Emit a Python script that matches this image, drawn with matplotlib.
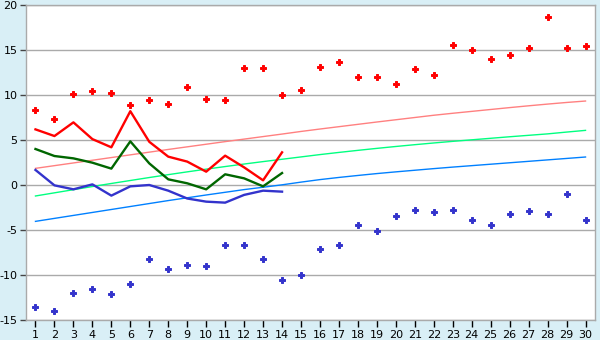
import matplotlib
matplotlib.use("Agg")
import matplotlib.pyplot as plt

days = list(range(1, 31))

rec_max = [8.3, 7.3, 10.1, 10.5, 10.2, 8.85, 9.5, 8.97, 10.85, 9.6,
           9.5, 12.96, 12.96, 9.96, 10.6, 13.07, 13.7, 11.96, 11.96, 11.2,
           12.85, 12.2, 15.6, 14.96, 13.96, 14.4, 15.2, 18.7, 15.2, 15.5]
rec_min = [-13.5, -14.04, -12.04, -11.5, -12.15, -11.04, -8.26, -9.37, -8.93, -9.04,
           -6.7, -6.7, -8.26, -10.6, -10.04, -7.15, -6.7, -4.44, -5.15, -3.48,
           -2.81, -3.04, -2.81, -3.93, -4.48, -3.26, -2.93, -3.26, -1.04, -3.93]

norm_max = [1.85, 2.15, 2.45, 2.75, 3.05, 3.35, 3.65, 3.95, 4.24, 4.53,
            4.82, 5.1, 5.38, 5.66, 5.95, 6.22, 6.48, 6.74, 7.0, 7.25,
            7.5, 7.75, 7.97, 8.18, 8.39, 8.6, 8.8, 8.99, 9.17, 9.33]
norm_mean = [-1.22, -0.87, -0.52, -0.17, 0.17, 0.5, 0.83, 1.15, 1.46, 1.76,
             2.05, 2.33, 2.6, 2.86, 3.12, 3.38, 3.62, 3.85, 4.07, 4.28,
             4.48, 4.67, 4.85, 5.02, 5.19, 5.36, 5.52, 5.68, 5.88, 6.07]
norm_min = [-4.04, -3.71, -3.38, -3.05, -2.72, -2.39, -2.06, -1.73, -1.42, -1.11,
            -0.81, -0.51, -0.25, 0.02, 0.32, 0.6, 0.84, 1.06, 1.27, 1.46,
            1.64, 1.82, 1.99, 2.15, 2.31, 2.47, 2.63, 2.79, 2.95, 3.11]

obs_days = list(range(1, 15))
obs_max = [6.18, 5.44, 6.96, 5.1, 4.19, 8.2, 4.8, 3.15, 2.6, 1.48, 3.26, 1.96, 0.52, 3.63]
obs_mean = [4.0, 3.22, 2.96, 2.48, 1.82, 4.85, 2.4, 0.63, 0.19, -0.48, 1.19, 0.74, -0.15, 1.33]
obs_min = [1.67, -0.04, -0.48, 0.07, -1.18, -0.15, 0.0, -0.63, -1.5, -1.85, -1.96, -1.1, -0.63, -0.74]

y_ticks = [-15, -10, -5, 0, 5, 10, 15, 20]

bg = "#D9EFF6"
grid_c = "#AAAAAA"

fig = plt.figure(figsize=(6, 3.4), dpi=100, facecolor=bg)
ax = fig.add_axes([26/600, 1 - 320/340, (595-26)/600, (320-5)/340])
ax.set_facecolor("white")

for y in y_ticks:
    ax.axhline(y, color=grid_c, lw=1, zorder=1)

ax.plot(days, norm_max, color="#FF8080", lw=1, zorder=2)
ax.plot(days, norm_mean, color="#00FF80", lw=1, zorder=2)
ax.plot(days, norm_min, color="#0080FF", lw=1, zorder=2)

ax.plot(obs_days, obs_max, color="#FF0000", lw=1.7, zorder=3)
ax.plot(obs_days, obs_mean, color="#006600", lw=1.7, zorder=3)
ax.plot(obs_days, obs_min, color="#3333CC", lw=1.7, zorder=3)

ax.plot(days, rec_max, linestyle="none", marker="P", ms=4.2, color="#FF0000",
        markeredgecolor="#FF0000", markeredgewidth=0.7, zorder=4)
ax.plot(days, rec_min, linestyle="none", marker="P", ms=4.2, color="#3333CC",
        markeredgecolor="#3333CC", markeredgewidth=0.7, zorder=4)

ax.set_xlim(0.5, 30.5)
ax.set_ylim(-15, 20)
ax.set_xticks(days)
ax.set_xticklabels([str(d) for d in days])
ax.set_yticks(y_ticks)
ax.set_yticklabels([str(y) for y in y_ticks])

for s in ax.spines.values():
    s.set_color(grid_c)
    s.set_linewidth(1)

ax.tick_params(axis="x", direction="out", length=5, width=1, color="black",
               labelsize=8, pad=2)
ax.tick_params(axis="y", direction="out", length=4, width=1, color="#444444",
               labelsize=8, pad=2)

fig.savefig("out.png", dpi=100, facecolor=bg)
